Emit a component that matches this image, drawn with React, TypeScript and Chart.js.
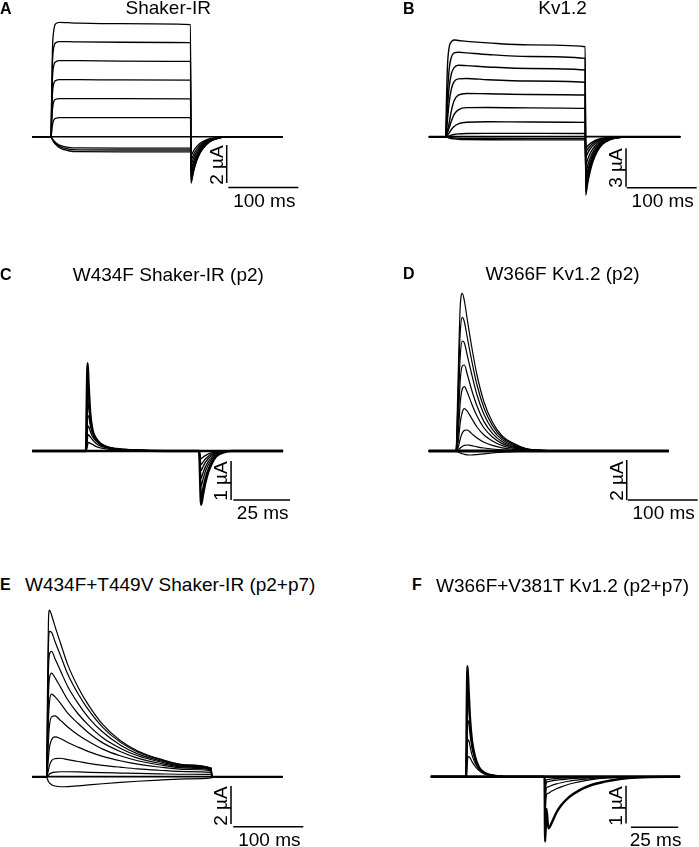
import React, { useEffect, useRef } from "react";
import { Chart, registerables } from "chart.js";

Chart.register(...registerables);

// ---------------- DATA (time in ms, current in µA) ----------------

// A — Shaker-IR
const timeA = [-27, 0, 0.8, 2, 4, 7, 12, 25, 40, 100, 199.3, 200, 201, 203, 206, 210, 215, 222, 230, 240, 252, 331];
const tracesA = [
  [0, 0, 1.8, 4.5, 5.6, 5.95, 6.02, 6.0, 5.98, 5.95, 5.9, -2.45, -2.33, -1.96, -1.52, -1.1, -0.74, -0.42, -0.2, -0.07, 0, 0],
  [0, 0, 1.6, 3.8, 4.7, 4.95, 5.0, 5.0, 4.99, 4.97, 4.95, -2.35, -2.23, -1.88, -1.46, -1.06, -0.71, -0.4, -0.19, -0.07, 0, 0],
  [0, 0, 1.2, 3.0, 3.75, 3.95, 4.0, 4.0, 4.0, 3.98, 3.96, -2.25, -2.14, -1.8, -1.4, -1.01, -0.68, -0.38, -0.18, -0.07, 0, 0],
  [0, 0, 0.9, 2.2, 2.8, 2.96, 3.0, 3.0, 3.0, 2.99, 2.98, -2.1, -2.0, -1.68, -1.3, -0.95, -0.63, -0.36, -0.17, -0.06, 0, 0],
  [0, 0, 0.5, 1.4, 1.85, 1.97, 2.0, 2.0, 2.0, 2.0, 1.99, -1.95, -1.85, -1.56, -1.21, -0.88, -0.59, -0.33, -0.16, -0.06, 0, 0],
  [0, 0, 0.2, 0.6, 0.88, 0.97, 1.0, 1.0, 1.0, 1.0, 1.0, -1.75, -1.66, -1.4, -1.09, -0.79, -0.53, -0.3, -0.14, -0.05, 0, 0],
  [0, 0, -0.06, -0.15, -0.28, -0.42, -0.58, -0.74, -0.79, -0.8, -0.8, -1.5, -1.42, -1.2, -0.93, -0.68, -0.45, -0.26, -0.12, -0.05, 0, 0],
  [0, 0, -0.05, -0.13, -0.24, -0.37, -0.51, -0.65, -0.69, -0.7, -0.7, -1.25, -1.19, -1.0, -0.78, -0.56, -0.38, -0.21, -0.1, -0.04, 0, 0],
  [0, 0, -0.04, -0.11, -0.21, -0.32, -0.44, -0.56, -0.59, -0.6, -0.6, -1.0, -0.95, -0.8, -0.62, -0.45, -0.3, -0.17, -0.08, -0.03, 0, 0],
];

// B — Kv1.2
const timeB = [-24, 0, 1, 2.5, 5, 8, 12, 18, 30, 60, 120, 199.3, 200, 201, 203, 206, 210, 216, 224, 234, 246, 260, 335];
const tracesB = [
  [0, 0, 2.6, 5.5, 7.0, 7.4, 7.55, 7.52, 7.45, 7.33, 7.17, 7.03, -4.55, -4.3, -3.6, -2.8, -2.0, -1.2, -0.6, -0.25, -0.08, 0, 0],
  [0, 0, 1.2, 3.3, 5.3, 6.2, 6.55, 6.6, 6.55, 6.42, 6.27, 6.12, -4.3, -4.06, -3.4, -2.64, -1.89, -1.14, -0.57, -0.24, -0.08, 0, 0],
  [0, 0, 0.7, 2.2, 3.9, 4.9, 5.4, 5.58, 5.55, 5.45, 5.33, 5.21, -4.0, -3.78, -3.16, -2.46, -1.76, -1.06, -0.53, -0.22, -0.07, 0, 0],
  [0, 0, 0.4, 1.3, 2.7, 3.7, 4.3, 4.52, 4.55, 4.45, 4.35, 4.25, -3.7, -3.5, -2.92, -2.28, -1.63, -0.98, -0.49, -0.2, -0.07, 0, 0],
  [0, 0, 0.15, 0.5, 1.1, 2.0, 2.8, 3.25, 3.38, 3.35, 3.3, 3.26, -3.3, -3.12, -2.61, -2.03, -1.45, -0.87, -0.44, -0.18, -0.06, 0, 0],
  [0, 0, 0.08, 0.3, 0.7, 1.2, 1.75, 2.1, 2.27, 2.28, 2.25, 2.21, -2.8, -2.65, -2.21, -1.72, -1.23, -0.74, -0.37, -0.15, -0.05, 0, 0],
  [0, 0, 0.03, 0.12, 0.3, 0.55, 0.8, 1.0, 1.13, 1.17, 1.15, 1.12, -2.2, -2.08, -1.74, -1.35, -0.97, -0.58, -0.29, -0.12, -0.04, 0, 0],
  [0, 0, 0.01, 0.03, 0.07, 0.12, 0.17, 0.22, 0.25, 0.26, 0.26, 0.25, -1.6, -1.51, -1.26, -0.98, -0.7, -0.42, -0.21, -0.09, -0.03, 0, 0],
  [0, 0, -0.02, -0.05, -0.1, -0.14, -0.17, -0.2, -0.22, -0.24, -0.25, -0.25, -1.2, -1.13, -0.95, -0.74, -0.53, -0.32, -0.16, -0.07, -0.02, 0, 0],
  [0, 0, -0.01, -0.03, -0.05, -0.07, -0.09, -0.11, -0.13, -0.14, -0.15, -0.15, -0.9, -0.85, -0.71, -0.55, -0.4, -0.24, -0.12, -0.05, -0.02, 0, 0],
];

// C — W434F Shaker-IR (p2)
const timeC = [-24, -0.3, 0, 0.4, 0.8, 1.5, 2.5, 4, 6, 9, 13, 20, 35, 49.5, 50.4, 51.2, 52.2, 53.5, 55, 57, 60, 64, 86.5];
const tracesC = [
  [0, 0, 1.2, 2.25, 1.75, 1.0, 0.55, 0.33, 0.19, 0.1, 0.05, 0.02, 0, 0, -1.38, -1.13, -0.83, -0.55, -0.33, -0.14, -0.04, 0, 0],
  [0, 0, 0.8, 1.75, 1.45, 0.92, 0.55, 0.33, 0.2, 0.1, 0.05, 0.02, 0, 0, -1.15, -0.94, -0.69, -0.46, -0.28, -0.12, -0.03, 0, 0],
  [0, 0, 0.5, 1.25, 1.15, 0.8, 0.5, 0.32, 0.19, 0.1, 0.05, 0.02, 0, 0, -0.9, -0.74, -0.54, -0.36, -0.22, -0.09, -0.03, 0, 0],
  [0, 0, 0.35, 0.9, 0.9, 0.68, 0.46, 0.3, 0.18, 0.1, 0.05, 0.02, 0, 0, -0.7, -0.57, -0.42, -0.28, -0.17, -0.07, -0.02, 0, 0],
  [0, 0, 0.2, 0.58, 0.64, 0.52, 0.38, 0.26, 0.16, 0.09, 0.05, 0.02, 0, 0, -0.5, -0.41, -0.3, -0.2, -0.12, -0.05, -0.02, 0, 0],
  [0, 0, 0.1, 0.35, 0.42, 0.37, 0.29, 0.2, 0.13, 0.08, 0.04, 0.02, 0, 0, -0.35, -0.29, -0.21, -0.14, -0.08, -0.04, -0.01, 0, 0],
  [0, 0, 0.05, 0.16, 0.22, 0.2, 0.17, 0.12, 0.08, 0.05, 0.03, 0.01, 0, 0, -0.2, -0.16, -0.12, -0.08, -0.05, -0.02, -0.01, 0, 0],
];

// D — W366F Kv1.2 (p2)
const timeD = [-39, 0, 2, 4, 6, 9, 12, 16, 22, 30, 40, 52, 66, 82, 100, 125, 160, 304];
const tracesD = [
  [0, 0, 2.2, 5.0, 7.2, 7.88, 7.5, 6.6, 5.3, 3.8, 2.45, 1.45, 0.75, 0.38, 0.12, 0.03, 0, 0],
  [0, 0, 1.6, 4.0, 5.9, 6.68, 6.45, 5.7, 4.6, 3.3, 2.15, 1.28, 0.66, 0.33, 0.11, 0.03, 0, 0],
  [0, 0, 1.1, 3.0, 4.7, 5.5, 5.4, 4.8, 3.9, 2.8, 1.82, 1.08, 0.56, 0.28, 0.09, 0.02, 0, 0],
  [0, 0, 0.7, 2.1, 3.5, 4.25, 4.3, 3.85, 3.1, 2.25, 1.47, 0.88, 0.46, 0.23, 0.08, 0.02, 0, 0],
  [0, 0, 0.4, 1.3, 2.4, 3.1, 3.22, 2.95, 2.4, 1.75, 1.15, 0.7, 0.37, 0.19, 0.07, 0.02, 0, 0],
  [0, 0, 0.2, 0.7, 1.4, 1.95, 2.12, 2.0, 1.65, 1.2, 0.8, 0.5, 0.27, 0.14, 0.05, 0.01, 0, 0],
  [0, 0, 0.08, 0.3, 0.6, 0.9, 1.03, 1.05, 0.88, 0.65, 0.44, 0.28, 0.16, 0.08, 0.03, 0.01, 0, 0],
  [0, 0, 0.02, 0.08, 0.15, 0.23, 0.28, 0.3, 0.27, 0.21, 0.15, 0.1, 0.06, 0.03, 0.01, 0, 0, 0],
  [0, 0, -0.02, -0.06, -0.1, -0.14, -0.17, -0.19, -0.2, -0.18, -0.14, -0.1, -0.06, -0.03, -0.01, 0, 0, 0],
];

// E — W434F+T449V Shaker-IR (p2+p7)
const timeE = [-21, 0, 1, 2.5, 4, 7, 12, 20, 30, 45, 60, 80, 105, 130, 160, 200, 235, 236, 240, 337];
const tracesE = [
  [0, 0, 4.0, 8.2, 8.77, 8.5, 7.9, 7.0, 5.9, 4.7, 3.75, 2.75, 1.9, 1.35, 0.95, 0.62, 0.45, 0, 0, 0],
  [0, 0, 3.0, 6.9, 7.65, 7.6, 7.1, 6.35, 5.4, 4.35, 3.5, 2.6, 1.82, 1.3, 0.92, 0.6, 0.45, 0, 0, 0],
  [0, 0, 2.2, 5.6, 6.45, 6.6, 6.2, 5.55, 4.75, 3.85, 3.1, 2.35, 1.67, 1.2, 0.86, 0.57, 0.43, 0, 0, 0],
  [0, 0, 1.5, 4.2, 5.2, 5.45, 5.2, 4.7, 4.05, 3.3, 2.7, 2.05, 1.5, 1.1, 0.8, 0.54, 0.41, 0, 0, 0],
  [0, 0, 1.0, 3.0, 3.95, 4.35, 4.2, 3.85, 3.35, 2.8, 2.3, 1.78, 1.33, 0.98, 0.72, 0.5, 0.38, 0, 0, 0],
  [0, 0, 0.6, 1.9, 2.7, 3.15, 3.2, 2.95, 2.62, 2.2, 1.85, 1.45, 1.1, 0.84, 0.63, 0.45, 0.35, 0, 0, 0],
  [0, 0, 0.3, 1.0, 1.55, 1.95, 2.1, 2.0, 1.8, 1.55, 1.32, 1.07, 0.84, 0.66, 0.51, 0.38, 0.31, 0, 0, 0],
  [0, 0, 0.1, 0.35, 0.6, 0.85, 0.95, 0.97, 0.9, 0.8, 0.7, 0.6, 0.5, 0.41, 0.34, 0.27, 0.23, 0, 0, 0],
  [0, 0, 0.02, 0.08, 0.14, 0.2, 0.24, 0.26, 0.26, 0.25, 0.23, 0.21, 0.19, 0.17, 0.15, 0.13, 0.12, 0, 0, 0],
  [0, 0, -0.12, -0.25, -0.33, -0.42, -0.49, -0.53, -0.52, -0.48, -0.43, -0.37, -0.3, -0.24, -0.18, -0.11, -0.06, 0, 0, 0],
];

// F — W366F+V381T Kv1.2 (p2+p7)
const timeF = [-19, -0.3, 0, 0.4, 1, 1.8, 2.8, 4.4, 6.5, 9, 13, 20, 41.2, 41.5, 42.2, 43.2, 45, 47.5, 50, 54, 60, 66, 73, 81, 90, 112.9];
const tracesF = [
  [0, 0, 1.6, 2.94, 2.3, 1.5, 0.95, 0.53, 0.25, 0.12, 0.04, 0, 0, -1.72, -0.85, -1.37, -1.22, -0.95, -0.76, -0.55, -0.35, -0.22, -0.13, -0.06, -0.02, 0],
  [0, 0, 1.0, 2.25, 1.95, 1.35, 0.88, 0.5, 0.24, 0.11, 0.04, 0, 0, -0.9, -0.48, -0.44, -0.38, -0.32, -0.27, -0.2, -0.13, -0.08, -0.04, -0.02, 0, 0],
  [0, 0, 0.6, 1.5, 1.45, 1.1, 0.75, 0.45, 0.22, 0.1, 0.04, 0, 0, -0.6, -0.3, -0.27, -0.23, -0.19, -0.16, -0.12, -0.08, -0.05, -0.03, -0.01, 0, 0],
  [0, 0, 0.3, 0.9, 0.98, 0.8, 0.58, 0.37, 0.2, 0.09, 0.03, 0, 0, -0.35, -0.15, -0.13, -0.11, -0.09, -0.08, -0.06, -0.04, -0.03, -0.02, -0.01, 0, 0],
  [0, 0, 0.12, 0.42, 0.53, 0.5, 0.4, 0.28, 0.16, 0.08, 0.03, 0, 0, -0.2, -0.08, -0.07, -0.06, -0.05, -0.04, -0.03, -0.02, -0.01, 0, 0, 0, 0],
];

// Scale bars (size in data units, anchor in data units)
const scaleBarA = { ms: 100, uA: 2, vx: 251, vTop: -0.44, hx: 253.3, hy: -2.68 };
const scaleBarB = { ms: 100, uA: 3, vx: 257.6, vTop: -0.906, hx: 258.6, hy: -3.98 };
const scaleBarC = { ms: 25, uA: 1, vx: 63.6, vTop: -0.256, hx: 64.6, hy: -1.256 };
const scaleBarD = { ms: 100, uA: 2, vx: 243.9, vTop: -0.45, hx: 245.3, hy: -2.45 };
const scaleBarE = { ms: 100, uA: 2, vx: 263.3, vTop: -0.49, hx: 266.6, hy: -2.63 };
const scaleBarF = { ms: 25, uA: 1, vx: 84.3, vTop: -0.24, hx: 86.9, hy: -1.34 };

// ---------------- LAYOUT / STYLE ----------------
const FONT = '"Liberation Sans", Arial, Helvetica, sans-serif';

type Layout = {
  left: number; top: number; width: number; height: number;
  originX: number; originY: number; pxPerMs: number; pxPerUA: number;
};

type PanelDef = {
  letter: string; letterX: number; letterBase: number;
  title: string; titleX: number; titleBase: number; titleAlign: "center" | "left";
  layout: Layout;
  times: number[]; traces: number[][];
  bar: { ms: number; uA: number; vx: number; vTop: number; hx: number; hy: number };
  traceWidth: number; baseWidth: number; thick: number[];
};

const panels: PanelDef[] = [
  {
    letter: "A", letterX: 0, letterBase: 14.5, title: "Shaker-IR", titleX: 168.3, titleBase: 14.5, titleAlign: "center",
    layout: { left: 0, top: 0, width: 349, height: 215, originX: 51, originY: 136.7, pxPerMs: 0.7, pxPerUA: 19 },
    times: timeA, traces: tracesA, bar: scaleBarA, traceWidth: 1.3, baseWidth: 1.6, thick: [],
  },
  {
    letter: "B", letterX: 403, letterBase: 14.5, title: "Kv1.2", titleX: 562.5, titleBase: 14, titleAlign: "center",
    layout: { left: 350, top: 0, width: 349, height: 215, originX: 445.7, originY: 136.7, pxPerMs: 0.7, pxPerUA: 12.8 },
    times: timeB, traces: tracesB, bar: scaleBarB, traceWidth: 1.4, baseWidth: 1.8, thick: [],
  },
  {
    letter: "C", letterX: 0, letterBase: 280.5, title: "W434F Shaker-IR (p2)", titleX: 168.3, titleBase: 281, titleAlign: "center",
    layout: { left: 0, top: 255, width: 349, height: 265, originX: 86.7, originY: 451, pxPerMs: 2.27, pxPerUA: 39 },
    times: timeC, traces: tracesC, bar: scaleBarC, traceWidth: 1.3, baseWidth: 2.6, thick: [0],
  },
  {
    letter: "D", letterX: 403, letterBase: 279.5, title: "W366F Kv1.2 (p2)", titleX: 562.5, titleBase: 280.5, titleAlign: "center",
    layout: { left: 350, top: 255, width: 349, height: 265, originX: 456, originY: 451, pxPerMs: 0.7, pxPerUA: 20 },
    times: timeD, traces: tracesD, bar: scaleBarD, traceWidth: 1.2, baseWidth: 3, thick: [],
  },
  {
    letter: "E", letterX: 0, letterBase: 591, title: "W434F+T449V Shaker-IR (p2+p7)", titleX: 25, titleBase: 591.5, titleAlign: "left",
    layout: { left: 0, top: 595, width: 349, height: 252, originX: 46.7, originY: 776.7, pxPerMs: 0.7, pxPerUA: 19 },
    times: timeE, traces: tracesE, bar: scaleBarE, traceWidth: 1.2, baseWidth: 1.8, thick: [],
  },
  {
    letter: "F", letterX: 412, letterBase: 591, title: "W366F+V381T Kv1.2 (p2+p7)", titleX: 436, titleBase: 592, titleAlign: "left",
    layout: { left: 350, top: 595, width: 349, height: 252, originX: 466.7, originY: 776.7, pxPerMs: 1.89, pxPerUA: 37.7 },
    times: timeF, traces: tracesF, bar: scaleBarF, traceWidth: 1.2, baseWidth: 2.8, thick: [0],
  },
];

const TITLE_SIZE = 19;
const LETTER_SIZE = 16;
const ASC = 0.8465; // baseline offset within a line box of line-height 1

function TracePanel({ p }: { p: PanelDef }) {
  const ref = useRef<HTMLCanvasElement | null>(null);
  const L = p.layout;

  useEffect(() => {
    const canvas = ref.current;
    if (!canvas) return;
    const xmin = (L.left - L.originX) / L.pxPerMs;
    const xmax = (L.left + L.width - L.originX) / L.pxPerMs;
    const ymax = (L.originY - L.top) / L.pxPerUA;
    const ymin = (L.originY - (L.top + L.height)) / L.pxPerUA;
    const t = p.times;
    const datasets: any[] = [];
    datasets.push({
      data: [{ x: t[0], y: 0 }, { x: t[t.length - 1], y: 0 }],
      borderColor: "#000", borderWidth: p.baseWidth, tension: 0, cubicInterpolationMode: "default",
    });
    p.traces.forEach((tr, i) => {
      datasets.push({
        data: tr.map((v, k) => ({ x: t[k], y: v })),
        borderColor: "#000",
        borderWidth: p.thick.includes(i) ? 2.4 : p.traceWidth,
        cubicInterpolationMode: "monotone",
        borderJoinStyle: "round",
      });
    });
    const b = p.bar;
    datasets.push({
      data: [{ x: b.vx, y: b.vTop }, { x: b.vx, y: b.vTop - b.uA }],
      borderColor: "#000", borderWidth: 1.5, tension: 0, cubicInterpolationMode: "default",
    });
    datasets.push({
      data: [{ x: b.hx, y: b.hy }, { x: b.hx + b.ms, y: b.hy }],
      borderColor: "#000", borderWidth: 1.5, tension: 0, cubicInterpolationMode: "default",
    });

    const chart = new Chart(canvas, {
      type: "line",
      data: { datasets },
      options: {
        animation: false,
        responsive: false,
        maintainAspectRatio: false,
        devicePixelRatio: 1,
        events: [],
        layout: { padding: 0 },
        plugins: { legend: { display: false }, tooltip: { enabled: false }, title: { display: false } },
        elements: { point: { radius: 0 }, line: { fill: false } },
        scales: {
          x: { type: "linear", display: false, min: xmin, max: xmax },
          y: { type: "linear", display: false, min: ymin, max: ymax },
        },
      } as any,
    });
    return () => chart.destroy();
  }, []);

  const b = p.bar;
  const vxPx = L.originX + b.vx * L.pxPerMs;
  const vMidPx = L.originY - (b.vTop - b.uA / 2) * L.pxPerUA;
  const hCenterPx = L.originX + (b.hx + b.ms / 2) * L.pxPerMs;
  const hyPx = L.originY - b.hy * L.pxPerUA;

  const textBase: React.CSSProperties = {
    position: "absolute", fontFamily: FONT, fontSize: TITLE_SIZE, lineHeight: `${TITLE_SIZE}px`,
    color: "#000", whiteSpace: "nowrap",
  };

  return (
    <>
      <canvas
        ref={ref}
        width={L.width}
        height={L.height}
        style={{ position: "absolute", left: L.left, top: L.top, width: L.width, height: L.height }}
      />
      <div
        style={{
          position: "absolute", left: p.letterX, top: p.letterBase - ASC * LETTER_SIZE,
          fontFamily: FONT, fontWeight: 700, fontSize: LETTER_SIZE, lineHeight: `${LETTER_SIZE}px`, color: "#000",
        }}
      >
        {p.letter}
      </div>
      <div
        style={{
          ...textBase,
          left: p.titleX,
          top: p.titleBase - ASC * TITLE_SIZE,
          transform: p.titleAlign === "center" ? "translateX(-50%)" : undefined,
        }}
      >
        {p.title}
      </div>
      <div
        style={{
          ...textBase,
          left: vxPx - 11,
          top: vMidPx + 1,
          transform: "translate(-50%, -50%) rotate(-90deg)",
        }}
      >
        {`${b.uA} µA`}
      </div>
      <div
        style={{
          ...textBase,
          left: hCenterPx + 1,
          top: hyPx + 19 - ASC * TITLE_SIZE,
          transform: "translateX(-50%)",
        }}
      >
        {`${b.ms} ms`}
      </div>
    </>
  );
}

export default function App() {
  return (
    <div
      style={{
        position: "absolute", left: 0, top: 0, width: 699, height: 847,
        background: "#fff", overflow: "hidden",
      }}
    >
      {panels.map((p) => (
        <TracePanel key={p.letter} p={p} />
      ))}
    </div>
  );
}
